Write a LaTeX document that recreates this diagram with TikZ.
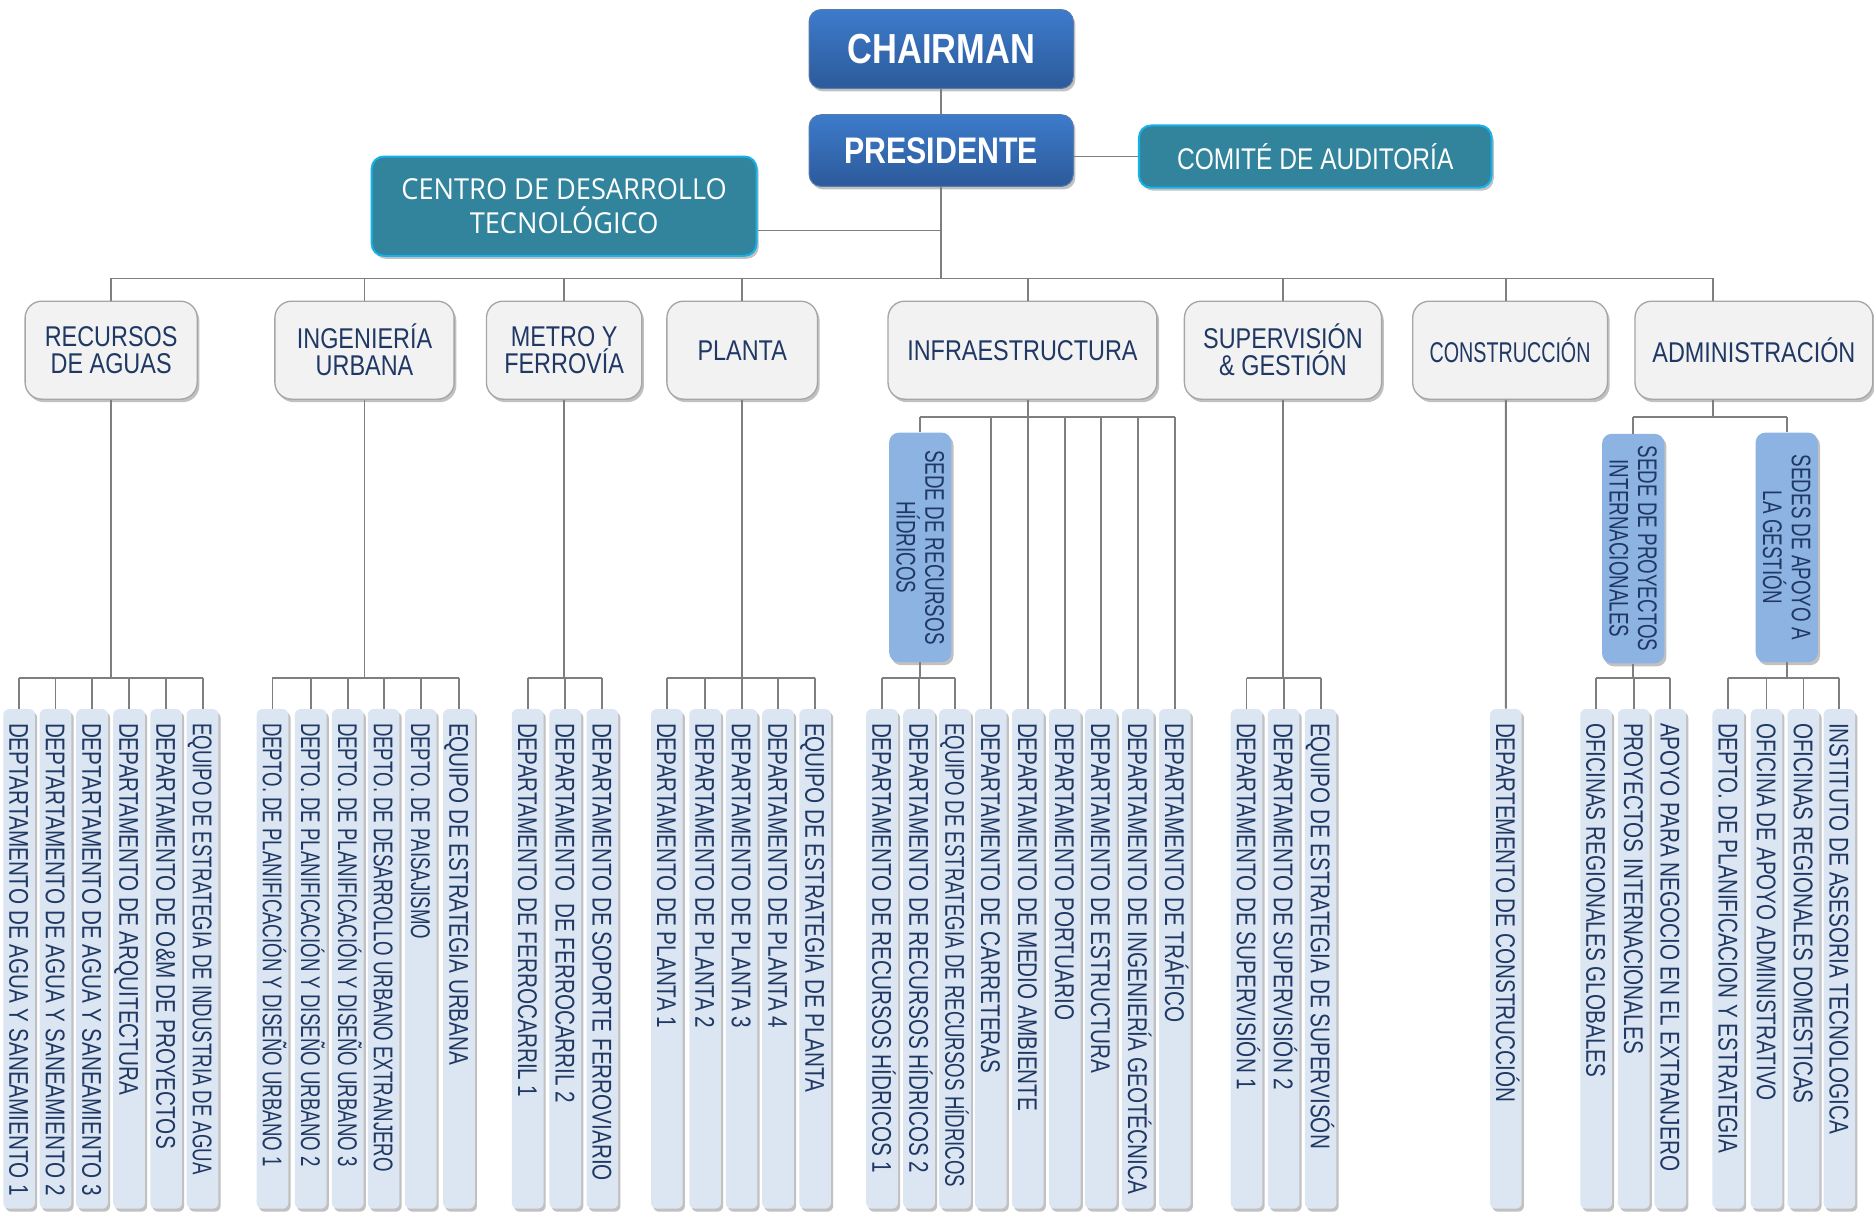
\documentclass[tikz,border=0pt]{standalone}
\usepackage{fontspec}
\setmainfont{Liberation Sans}
\newfontfamily\leaffont[FakeStretch=0.765]{Liberation Sans}
\newfontfamily\tightfont[FakeStretch=0.69]{Liberation Sans}
\newfontfamily\sedefont[FakeStretch=0.70]{Liberation Sans}
\newfontfamily\unitfont[FakeStretch=0.82]{Liberation Sans}
\newfontfamily\conffont[FakeStretch=0.69]{Liberation Sans}
\newfontfamily\centrofont[FakeStretch=0.94]{Open Sans}
\usetikzlibrary{shadows}

\newlength{\px}
\setlength{\px}{0.25mm}
\newcommand{\leafsize}{\leaffont\fontsize{16.1}{17}\selectfont}
\newcommand{\leaftight}{\tightfont\fontsize{16.1}{17}\selectfont}
\newcommand{\leaftext}[1]{\makebox[394.6\px][l]{#1}}

\definecolor{topblue}{HTML}{3D7BCB}
\definecolor{botblue}{HTML}{2C5A9A}
\definecolor{auditteal}{HTML}{31849B}
\definecolor{cyanline}{HTML}{17B1EA}
\definecolor{unitfill}{HTML}{F2F2F2}
\definecolor{unitline}{HTML}{A6A6A6}
\definecolor{navytext}{HTML}{1F3864}
\definecolor{sedefill}{HTML}{8DB3E2}
\definecolor{leaffill}{HTML}{DCE6F2}
\definecolor{linkgray}{HTML}{7F7F7F}

\begin{document}
\begin{tikzpicture}[x=0.25mm, y=-0.25mm,
  link/.style={draw=linkgray, line width=1.1pt},
  softshadow/.style={drop shadow={shadow xshift=1.3pt, shadow yshift=-1.8pt, opacity=0.35, fill=black!70}},
  head/.style={rounded corners=2.5mm, top color=topblue, bottom color=botblue, draw=botblue!80!white, line width=0.6pt, text=white, softshadow},
  board/.style={rounded corners=2.5mm, fill=auditteal, draw=cyanline, line width=1.2pt, text=white, softshadow},
  unit/.style={rounded corners=3.5mm, fill=unitfill, draw=unitline, line width=0.8pt, text=navytext, align=center, minimum height=82\px, font=\unitfont\fontsize{17}{16}\selectfont, softshadow},
  sede/.style={rounded corners=2mm, fill=sedefill, text=navytext, rotate=-90, align=center, minimum width=192\px, minimum height=52\px, inner sep=0pt, font=\sedefont\fontsize{16}{17}\selectfont, softshadow},
  leaf/.style={rounded corners=1.2mm, fill=leaffill, text=navytext, rotate=-90, anchor=west, inner xsep=11.7\px, inner ysep=0pt, minimum width=418\px, minimum height=26.5\px, text height=11.5pt, text depth=0pt, font=\leafsize, softshadow}]
\useasboundingbox (0,0) rectangle (1568,1019);

% top of the chart
\node[head, minimum width=221\px, minimum height=66\px, font=\unitfont\bfseries\fontsize{25}{25}\selectfont] (chair) at (787.5,41) {CHAIRMAN};
\node[head, minimum width=221\px, minimum height=60\px, font=\unitfont\bfseries\fontsize{22}{22}\selectfont] (pres) at (787.5,126) {PRESIDENTE};
\node[board, minimum width=295\px, minimum height=52\px, font=\unitfont\fontsize{17.8}{18}\selectfont] (com) at (1100.5,131) {COMITÉ DE AUDITORÍA};
\node[board, minimum width=322\px, minimum height=83\px, align=center, font=\centrofont\fontsize{17.2}{20.6}\selectfont] (cen) at (472,172.5) {CENTRO DE DESARROLLO\\TECNOLÓGICO};

% divisions
\node[unit, minimum width=144\px] (rec) at (93,293) {RECURSOS\\DE AGUAS};
\node[unit, minimum width=150\px] (ing) at (305,293) {INGENIERÍA\\URBANA};
\node[unit, minimum width=130\px] (met) at (472,293) {METRO Y\\FERROVÍA};
\node[unit, minimum width=126\px] (pla) at (621,293) {PLANTA};
\node[unit, minimum width=225\px] (inf) at (855.5,293) {INFRAESTRUCTURA};
\node[unit, minimum width=165\px] (sup) at (1073.5,293) {SUPERVISIÓN\\\& GESTIÓN};
\node[unit, minimum width=163\px, font=\conffont\fontsize{17}{16}\selectfont] (con) at (1263.5,293) {CONSTRUCCIÓN};
\node[unit, minimum width=199\px] (adm) at (1467.5,293) {ADMINISTRACIÓN};

% sedes
\node[sede] (hid) at (770,458) {SEDE DE RECURSOS\\HÍDRICOS};
\node[sede] (int) at (1366.5,459) {SEDE DE PROYECTOS\\INTERNACIONALES};
\node[sede] (apo) at (1495,458) {SEDES DE APOYO A\\LA GESTIÓN};

% departments
\foreach \n/\x/\fs/\txt in {
  r1/16/\leafsize/{DEPTARTAMENTO DE AGUA Y SANEAMIENTO 1},
  r2/46.5/\leafsize/{DEPTARTAMENTO DE AGUA Y SANEAMIENTO 2},
  r3/77/\leafsize/{DEPTARTAMENTO DE AGUA Y SANEAMIENTO 3},
  r4/108/\leafsize/{DEPARTAMENTO DE ARQUITECTURA},
  r5/139/\leafsize/{DEPARTAMENTO DE O\&M DE PROYECTOS},
  r6/169.5/\leaftight/{EQUIPO DE ESTRATEGIA DE INDUSTRIA DE AGUA},
  i1/228/\leaftight/{DEPTO. DE PLANIFICACIÓN Y DISEÑO URBANO 1},
  i2/260/\leaftight/{DEPTO. DE PLANIFICACIÓN Y DISEÑO URBANO 2},
  i3/291/\leaftight/{DEPTO. DE PLANIFICACIÓN Y DISEÑO URBANO 3},
  i4/321/\leaftight/{DEPTO. DE DESARROLLO URBANO EXTRANJERO},
  i5/352/\leaftight/{DEPTO. DE PAISAJISMO},
  i6/384/\leafsize/{EQUIPO DE ESTRATEGIA URBANA},
  m1/441.5/\leafsize/{DEPARTAMENTO DE FERROCARRIL 1},
  m2/473/\leafsize/{DEPARTAMENTO\ \ DE FERROCARRIL 2},
  m3/504/\leafsize/{DEPARTAMENTO DE SOPORTE FERROVIARIO},
  p1/558/\leafsize/{DEPARTAMENTO DE PLANTA 1},
  p2/590/\leafsize/{DEPARTAMENTO DE PLANTA 2},
  p3/620.5/\leafsize/{DEPARTAMENTO DE PLANTA 3},
  p4/651/\leafsize/{DEPARTAMENTO DE PLANTA 4},
  p5/682/\leafsize/{EQUIPO DE ESTRATEGIA DE PLANTA},
  f1/738/\leafsize/{DEPARTAMENTO DE RECURSOS HÍDRICOS 1},
  f2/769/\leafsize/{DEPARTAMENTO DE RECURSOS HÍDRICOS 2},
  f3/799/\leaftight/{EQUIPO DE ESTRATEGIA DE RECURSOS HÍDRICOS},
  f4/829/\leafsize/{DEPARTAMENTO DE CARRETERAS},
  f5/860/\leafsize/{DEPARTAMENTO DE MEDIO AMBIENTE},
  f6/891/\leafsize/{DEPARTAMENTO PORTUARIO},
  f7/921/\leafsize/{DEPARTAMENTO DE ESTRUCTURA},
  f8/952/\leafsize/{DEPARTAMENTO DE INGENIERÍA GEOTÉCNICA},
  f9/983/\leafsize/{DEPARTAMENTO DE TRÁFICO},
  s1/1043/\leafsize/{DEPARTAMENTO DE SUPERVISIÓN 1},
  s2/1074/\leafsize/{DEPARTAMENTO DE SUPERVISIÓN 2},
  s3/1105/\leafsize/{EQUIPO DE ESTRATEGIA DE SUPERVISÓN},
  c1/1260/\leafsize/{DEPARTEMENTO DE CONSTRUCCIÓN},
  a1/1335.5/\leafsize/{OFICINAS REGIONALES GLOBALES},
  a2/1367/\leafsize/{PROYECTOS INTERNACIONALES},
  a3/1397.5/\leafsize/{APOYO PARA NEGOCIO EN EL EXTRANJERO},
  g1/1446/\leafsize/{DEPTO. DE PLANIFICACION Y ESTRATEGIA},
  g2/1478/\leafsize/{OFICINA DE APOYO ADMINISTRATIVO},
  g3/1509/\leafsize/{OFICINAS REGIONALES DOMESTICAS},
  g4/1539/\leafsize/{INSTITUTO DE ASESORIA TECNOLOGICA}}
  \node[leaf, font=\fs] (\n) at (\x,593) {\leaftext{\txt}};

% connectors
\coordinate (bus) at (0,233);
\coordinate (ib) at (0,349);
\coordinate (lb) at (0,567);
\draw[link] (chair) -- (pres);
\draw[link] (pres.east |- com.west) -- (com.west);
\draw[link] (pres.south) -- (pres.south |- bus);
\draw[link] ([yshift=-5.1mm]cen.east) -- ([yshift=-5.1mm]cen.east -| pres.south);
\draw[link] (rec.north |- bus) -- ([xshift=-8.6mm]adm.north |- bus);
\foreach \p in {rec,ing,met,pla,sup}
  \draw[link] (\p.north) -- (\p.north |- bus);
\draw[link] ([xshift=1.125mm]inf.north) -- ([xshift=1.125mm]inf.north |- bus);
\draw[link] ([xshift=-0.875mm]con.north) -- ([xshift=-0.875mm]con.north |- bus);
\draw[link] ([xshift=-8.6mm]adm.north) -- ([xshift=-8.6mm]adm.north |- bus);

\foreach \p/\b/\c/\n in {rec/south/r/6, ing/south/i/6, met/south/m/3, pla/south/p/5, sup/south/s/3, hid/east/f/3, int/east/a/3, apo/east/g/4}{
  \draw[link] (\p.\b) -- (\p.\b |- lb);
  \draw[link] (\c1.west |- lb) -- (\c\n.west |- lb);
  \foreach \k in {1,...,\n}
    \draw[link] (\c\k.west) -- (\c\k.west |- lb);
}

\draw[link] ([xshift=1.125mm]inf.south) -- ([xshift=1.125mm]inf.south |- ib);
\draw[link] (hid.west |- ib) -- (f9.west |- ib);
\draw[link] (hid.west) -- (hid.west |- ib);
\foreach \k in {4,...,9}
  \draw[link] (f\k.west) -- (f\k.west |- ib);

\draw[link] ([xshift=-0.875mm]con.south) -- (c1.west);

\draw[link] ([xshift=-8.6mm]adm.south) -- ([xshift=-8.6mm]adm.south |- ib);
\draw[link] (int.west |- ib) -- (apo.west |- ib);
\draw[link] (int.west) -- (int.west |- ib);
\draw[link] (apo.west) -- (apo.west |- ib);
\end{tikzpicture}
\end{document}
